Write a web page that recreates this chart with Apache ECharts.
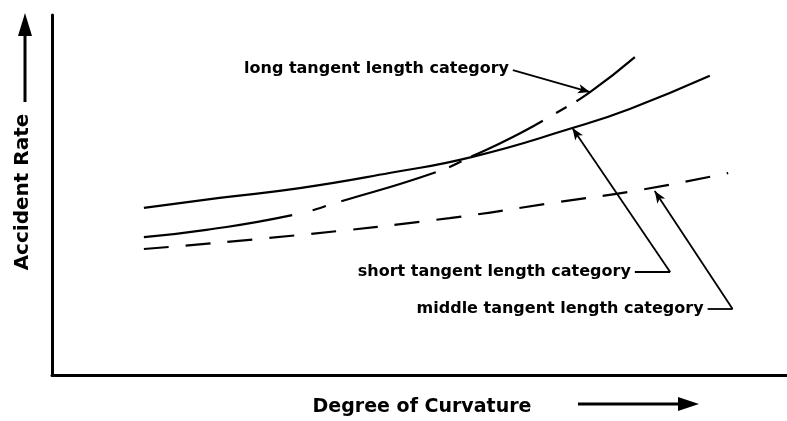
<!DOCTYPE html>
<meta charset="utf-8">
<style>
html, body { margin: 0; padding: 0; background: #fff; }
#main { width: 787px; height: 421px; }
</style>
<div id="main"></div>
<script src="https://cdn.jsdelivr.net/npm/echarts@6/dist/echarts.min.js"></script>
<script>

// curves (x: degree of curvature, y: accident rate, 0-100 schematic units)
var shortX = [12.5, 22.8, 33.7, 45.9, 57.2, 70.8, 78.6, 89.5];
var shortY = [46.4, 49.2, 51.9, 56.1, 60.6, 68.6, 73.9, 83.1];

var longX = [12.5, 21.0, 32.7, 39.1, 52.3, 57.2, 62.7, 68.1, 73.2, 79.3];
var longY = [38.3, 40.3, 44.4, 48.1, 56.4, 60.8, 66.1, 72.2, 78.6, 88.3];

var middleX = [12.5, 33.7, 54.1, 68.1, 80.0, 92.0];
var middleY = [35.0, 38.9, 43.6, 47.8, 51.4, 56.1];

var labels = ['long tangent length category', 'short tangent length category', 'middle tangent length category'];

// leader lines: [from, (elbow), to] in data units
var longLeader = [[62.7, 84.7], [73.2, 78.6]];
var shortLeader = [[79.3, 28.6], [84.1, 28.6], [70.8, 68.6]];
var middleLeader = [[89.2, 18.3], [92.6, 18.3], [82.0, 51.1]];

function zip(xs, ys) {
    return xs.map(function (x, i) { return [x, ys[i]]; });
}

var labelFont = {
    show: true,
    position: 'start',
    distance: 4,
    color: '#000',
    fontFamily: 'DejaVu Sans',
    fontWeight: 'bold',
    fontSize: 16
};

function leader(points, text) {
    var segs = [];
    if (points.length === 2) {
        segs.push([
            { coord: points[0], label: Object.assign({}, labelFont, { formatter: text }) },
            { coord: points[1] }
        ]);
    } else {
        segs.push([
            { coord: points[0], label: Object.assign({}, labelFont, { formatter: text }) },
            { coord: points[1], symbol: 'none' }
        ]);
        segs.push([
            { coord: points[1], label: { show: false } },
            { coord: points[2] }
        ]);
    }
    return segs;
}

var chart = echarts.init(document.getElementById('main'));

function markLineOf(points, text) {
    return {
        silent: true, symbol: ['none', 'arrow'], symbolSize: [7, 12],
        lineStyle: { color: '#000', width: 1.8, type: 'solid' },
        data: leader(points, text)
    };
}

chart.setOption({
    animation: false,
    backgroundColor: '#fff',
    grid: { left: 52, right: 0, top: 15, bottom: 46 },
    xAxis: {
        type: 'value', min: 0, max: 100,
        axisLine: { show: true, lineStyle: { color: '#000', width: 3 } },
        axisTick: { show: false }, axisLabel: { show: false }, splitLine: { show: false }
    },
    yAxis: {
        type: 'value', min: 0, max: 100,
        axisLine: { show: true, lineStyle: { color: '#000', width: 3 } },
        axisTick: { show: false }, axisLabel: { show: false }, splitLine: { show: false }
    },
    graphic: [
        { type: 'line', shape: { x1: 25, y1: 102, x2: 25, y2: 30 }, style: { stroke: '#000', lineWidth: 3 } },
        { type: 'polygon', shape: { points: [[18, 36], [25, 13], [32, 36]] }, style: { fill: '#000' } },
        { type: 'text', x: 23, y: 192, rotation: Math.PI / 2,
          style: { text: 'Accident Rate', fontFamily: 'DejaVu Sans', fontWeight: 'bold', fontSize: 20,
                   fill: '#000', textAlign: 'center', textVerticalAlign: 'middle' } },
        { type: 'text', x: 422, y: 407,
          style: { text: 'Degree of Curvature', fontFamily: 'DejaVu Sans', fontWeight: 'bold', fontSize: 19,
                   fill: '#000', textAlign: 'center', textVerticalAlign: 'middle' } },
        { type: 'line', shape: { x1: 578, y1: 404, x2: 684, y2: 404 }, style: { stroke: '#000', lineWidth: 3 } },
        { type: 'polygon', shape: { points: [[678, 397], [699, 404], [678, 411]] }, style: { fill: '#000' } }
    ],
    series: [
        {
            name: 'short', type: 'line', smooth: true, symbol: 'none',
            data: zip(shortX, shortY),
            lineStyle: { color: '#000', width: 2.2 },
            markLine: markLineOf(shortLeader, labels[1])
        },
        {
            name: 'long', type: 'line', smooth: true, symbol: 'none',
            data: zip(longX, longY),
            lineStyle: { color: '#000', width: 2.2, type: [150, 21, 14, 16, 99, 14, 14, 11, 80, 15, 12, 12, 400, 10] },
            markLine: markLineOf(longLeader, labels[0])
        },
        {
            name: 'middle', type: 'line', smooth: true, symbol: 'none',
            data: zip(middleX, middleY),
            lineStyle: { color: '#000', width: 2.2, type: [25, 17] },
            markLine: markLineOf(middleLeader, labels[2])
        }
    ]
});

</script>
